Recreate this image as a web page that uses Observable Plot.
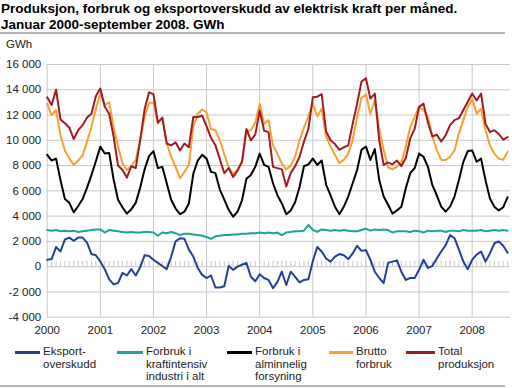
<!DOCTYPE html>
<html>
<head>
<meta charset="utf-8">
<script src="https://cdn.jsdelivr.net/npm/d3@7"></script>
<script src="https://cdn.jsdelivr.net/npm/@observablehq/plot@0.6"></script>
<style>
  html, body { margin: 0; padding: 0; background: #fff; width: 512px; height: 388px; overflow: hidden; }
  body { position: relative; font-family: "Liberation Sans", Arial, sans-serif; color: #000; }
  #title { position: absolute; left: 1px; top: 1px; font-weight: bold; font-size: 13.5px; line-height: 16px; }
  #rule1 { position: absolute; left: 0; top: 32px; width: 505px; height: 2px; background: #b4b4b4; }
  #unit { position: absolute; left: 6px; top: 38px; font-size: 11.5px; color: #222; }
  #chart { position: absolute; left: 0; top: 36px; }
  #legend { position: absolute; left: 0; top: 345px; width: 512px; height: 40px; font-size: 11.5px; line-height: 12.5px; color: #222; }
  .sw { position: absolute; top: 6px; height: 2.5px; }
  .lt { position: absolute; top: 0; white-space: nowrap; }
  #rule2 { position: absolute; left: 0; top: 385px; width: 505px; height: 2px; background: #b4b4b4; }
</style>
</head>
<body>
<div id="title">Produksjon, forbruk og eksportoverskudd av elektrisk kraft per måned.<br>Januar 2000-september 2008. GWh</div>
<div id="rule1"></div>
<div id="unit">GWh</div>
<div id="chart"></div>
<div id="legend"></div>
<div id="rule2"></div>
<script>
// Monthly values, January 2000 - September 2008 (GWh)
const startYear = 2000;
const years = [2000, 2001, 2002, 2003, 2004, 2005, 2006, 2007, 2008];
const yTicks = [-4000, -2000, 0, 2000, 4000, 6000, 8000, 10000, 12000, 14000, 16000];

const seriesNames = ["Eksport-\noverskudd", "Forbruk i\nkraftintensiv\nindustri i alt", "Forbruk i\nalminnelig\nforsyning", "Brutto\nforbruk", "Total\nproduksjon"];
const seriesColors = ["#233f98", "#1ea39b", "#000000", "#f7a030", "#a01b23"];

const eksportoverskudd = [
  550, 600, 1550, 1200, 2150, 2300, 2050, 2300, 2300, 1900, 1000, 900,
  400, -200, -1000, -1400, -1300, -500, -700, -200, -700, -50, 900, 850,
  550, 300, 50, -200, 800, 2000, 2250, 2200, 1350, 800, -100, -650,
  -900, -700, -1650, -1650, -1550, 50, -250, 0, 150, 300, -800, -1150,
  -600, -900, -1050, -1700, -1200, -400, -1450, -400, -800, -1250, -1050, -1000,
  450, 1550, 1200, 650, 400, 800, 1000, 900, 600, 1050, 1650, 1250,
  1300, 550, -400, -900, -1300, 300, 400, 500, -400, -1050, -900, -900,
  -250, 550, -100, 50, 650, 1200, 1700, 2500, 2250, 1350, 400, -200,
  550, 950, 1200, 400, 1050, 1850, 2000, 1650, 1100
];
const kraftintensiv = [
  2900, 2850, 2900, 2800, 2850, 2800, 2850, 2750, 2800, 2850, 2900, 2950,
  2950, 2700, 2900, 2850, 2800, 2750, 2700, 2750, 2700, 2700, 2750, 2750,
  2700, 2450, 2700, 2650, 2750, 2650, 2500, 2600, 2600, 2550, 2500, 2450,
  2350, 2200, 2400, 2450, 2500, 2500, 2550, 2550, 2600, 2600, 2650, 2650,
  2700, 2650, 2700, 2650, 2700, 2500, 2700, 2750, 2800, 2800, 2850, 3300,
  2900, 2750, 2950, 2900, 2850, 2900, 2850, 2900, 2850, 2800, 2800, 2900,
  3000, 2850, 2950, 2900, 2950, 2900, 2700, 2800, 2800, 2800, 2750, 2850,
  2800, 2700, 2850, 2800, 2850, 2850, 2750, 2850, 2850, 2800, 2900, 2850,
  2850, 2850, 2900, 2800, 2850, 2900, 2850, 2900, 2850
];
const alminnelig = [
  8850, 8400, 8550, 6850, 5350, 5050, 4300, 4800, 5350, 6250, 7250, 8350,
  9500, 8950, 9000, 6900, 5300, 4700, 4200, 4550, 5050, 6250, 7700, 8750,
  9150, 7800, 7900, 6600, 5300, 4600, 4150, 4350, 5000, 7350, 8400, 8850,
  8550, 7500, 7400, 6100, 5300, 4500, 3950, 4350, 5250, 6950, 7250, 7900,
  8950, 8050, 7900, 6600, 5650, 5000, 4150, 4450, 5100, 6300, 7950, 8100,
  8550, 8050, 8400, 6500, 5650, 4750, 4150, 4750, 5550, 6600, 7650, 9250,
  9500, 8450, 9300, 6850, 5550, 4900, 4200, 4450, 4750, 6200, 7400, 7800,
  8950, 8700, 7900, 6450, 5650, 4750, 4350, 4750, 5550, 6850, 8300, 9150,
  9200, 8300, 8550, 6850, 5400, 4750, 4450, 4700, 5500
];
const bruttoForbruk = [
  12900, 12000, 12400, 10400, 9200, 8550, 8050, 8400, 8800, 9900, 11050, 12500,
  13700, 12800, 13000, 11050, 9500, 8200, 7650, 7950, 8450, 10000, 11850, 12950,
  13000, 11350, 11750, 9750, 8700, 7900, 7000, 7500, 8050, 11050, 12100, 12450,
  12200, 10900, 10800, 10000, 8900, 7850, 7300, 7700, 8300, 10650, 10800, 11400,
  12900, 11300, 11600, 9600, 8950, 8150, 7700, 8000, 8700, 10000, 11000, 11900,
  12900, 11900, 12500, 10300, 9500, 8850, 8200, 8450, 8950, 10000, 11850, 13350,
  13650, 12100, 13150, 10900, 9250, 7850, 7700, 7900, 8250, 9500, 11050, 11850,
  12650, 12400, 11850, 10300, 9250, 8450, 8450, 8700, 9200, 10550, 11600, 12650,
  13300, 12100, 12500, 10800, 9600, 8950, 8550, 8450, 9100
];
const totalProduksjon = [
  13400, 12800, 14000, 11650, 11350, 11000, 10100, 10800, 11200, 11800, 12100, 13500,
  14100, 12650, 12100, 10300, 8000, 7650, 7050, 7950, 7800, 10000, 12450, 13800,
  13650, 11400, 11800, 9750, 9600, 9850, 9200, 9750, 9450, 11850, 11850, 11950,
  11100, 10200, 9600, 8500, 7400, 7800, 7100, 7600, 8300, 10900, 10000, 10450,
  12350, 10750, 10650, 7900, 7800, 7700, 6350, 7400, 7950, 8700, 9900, 10900,
  13400, 13450, 13650, 10700, 10000, 9700, 9250, 9450, 9600, 11300, 12900, 14650,
  14900, 13300, 13700, 10000, 8050, 8250, 8100, 8400, 7950, 8600, 10150, 10900,
  12650, 12900, 11400, 10300, 10450, 9900, 10400, 11200, 11600, 11750, 12400, 13050,
  13700, 13150, 13700, 11300, 10650, 10800, 10500, 10050, 10250
];

const allSeries = [eksportoverskudd, kraftintensiv, alminnelig, bruttoForbruk, totalProduksjon];
const t = i => startYear + i / 12;
const monthIdx = d3.range(eksportoverskudd.length);

const fmt = d => (d < 0 ? "-" : "") + d3.format(",")(Math.abs(d)).replace(/,/g, " ");
const grid = "#c8c8c8";

const lineMarks = allSeries.map((vals, k) =>
  Plot.line(monthIdx, {x: i => t(i), y: i => vals[i], stroke: seriesColors[k], strokeWidth: 2, strokeLinejoin: "round"})
);

const chart = Plot.plot({
  width: 512,
  height: 308,
  marginLeft: 46.7,
  marginRight: 2,
  marginTop: 28,
  marginBottom: 27.3,
  style: {fontFamily: "'Liberation Sans', Arial, sans-serif", fontSize: "11.5px", color: "#222", background: "transparent"},
  x: {domain: [2000, 2008 + 8.65 / 12]},
  y: {domain: [-4000, 16000]},
  marks: [
    Plot.gridY({ticks: yTicks, stroke: grid, strokeOpacity: 1, strokeWidth: 1}),
    Plot.gridX({ticks: years, stroke: grid, strokeOpacity: 1, strokeWidth: 1}),
    Plot.ruleX(monthIdx, {x: i => t(i), y1: 0, y2: 420, stroke: grid, strokeWidth: 1}),
    Plot.axisY({ticks: yTicks, tickSize: 0, tickPadding: 6, tickFormat: fmt, label: null}),
    Plot.axisX({ticks: years, tickSize: 0, tickPadding: 9, tickFormat: d => String(d), label: null}),
    ...lineMarks
  ]
});
document.getElementById("chart").appendChild(chart);

// Legend
const legendX = [15, 117, 227, 329, 406];
const legendW = [25, 26, 25, 24, 29];
const legend = document.getElementById("legend");
seriesNames.forEach((name, k) => {
  const sw = document.createElement("div");
  sw.className = "sw";
  sw.style.left = legendX[k] + "px";
  sw.style.width = legendW[k] + "px";
  sw.style.background = seriesColors[k];
  legend.appendChild(sw);
  const lt = document.createElement("div");
  lt.className = "lt";
  lt.style.left = (legendX[k] + legendW[k] + 3) + "px";
  lt.innerHTML = name.split("\n").join("<br>");
  legend.appendChild(lt);
});
</script>
</body>
</html>
